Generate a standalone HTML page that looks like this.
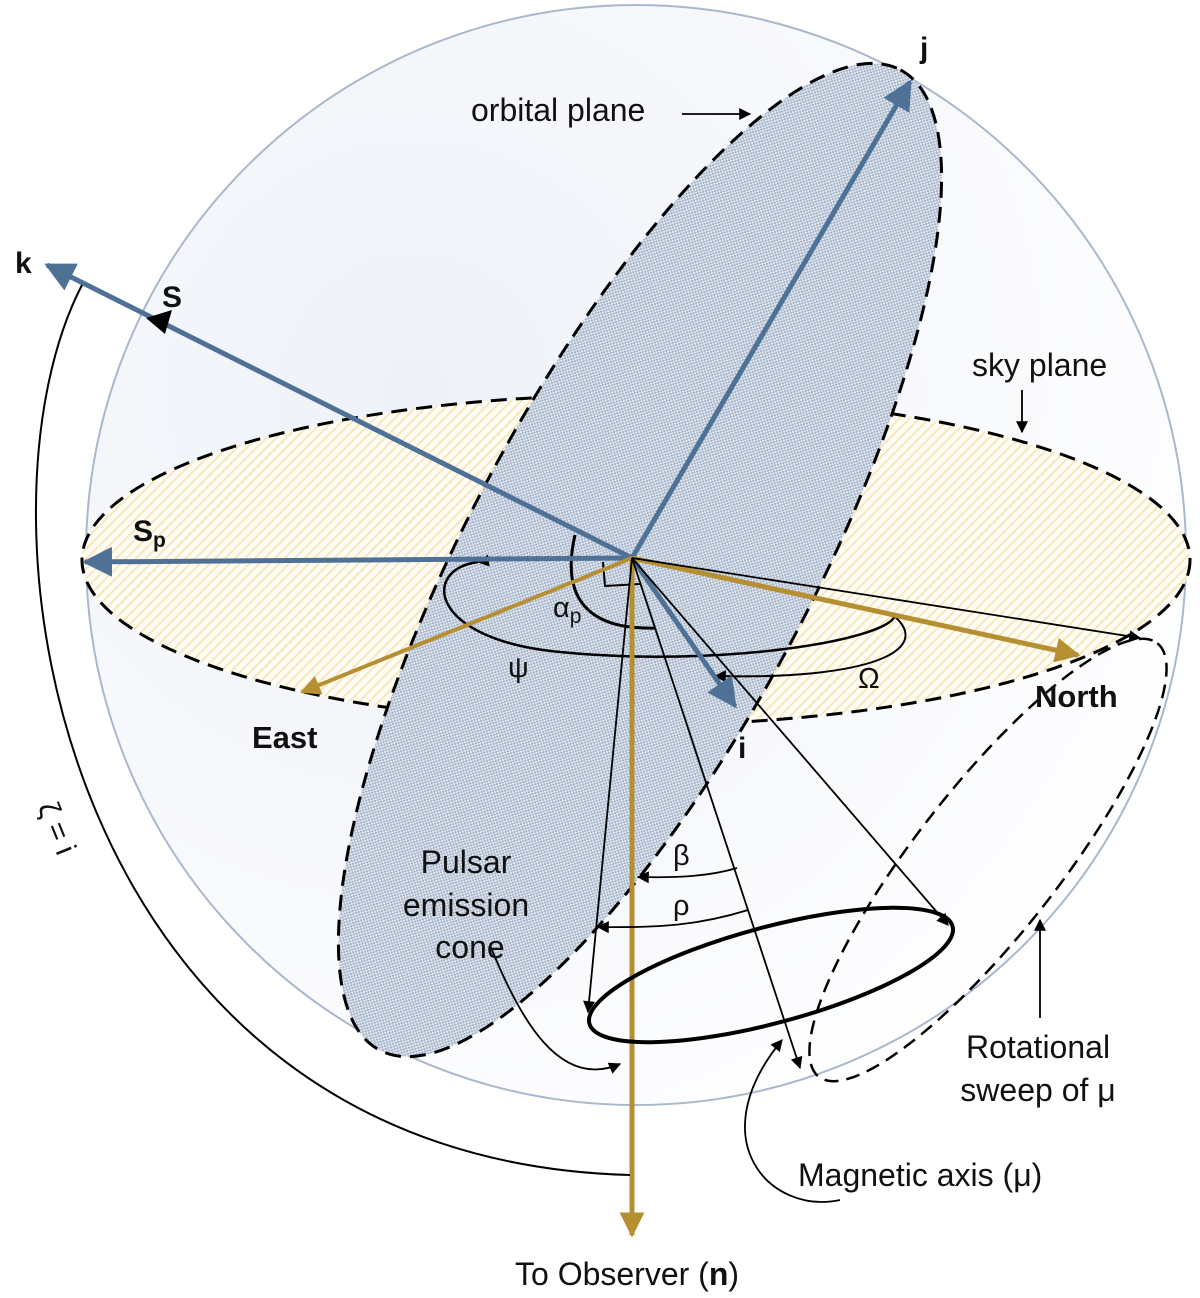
<!DOCTYPE html>
<html><head><meta charset="utf-8"><style>
html,body{margin:0;padding:0;background:#fff}
svg{display:block}
text{font-family:"Liberation Sans",sans-serif;fill:#111}
</style></head><body>
<svg width="1200" height="1298" viewBox="0 0 1200 1298" xmlns="http://www.w3.org/2000/svg">
<defs>
<radialGradient id="sph" cx="0.3" cy="0.35" r="0.8">
<stop offset="0" stop-color="#eef2f8"/><stop offset="0.6" stop-color="#f8f9fc"/><stop offset="1" stop-color="#ffffff"/>
</radialGradient>
<pattern id="chk" width="4" height="4" patternUnits="userSpaceOnUse">
<rect width="4" height="4" fill="#e2e7ef"/><rect width="2" height="2" fill="#a6b5ca"/><rect x="2" y="2" width="2" height="2" fill="#a6b5ca"/>
</pattern>
<pattern id="hat" width="7" height="7" patternUnits="userSpaceOnUse" patternTransform="rotate(45)">
<rect width="7" height="7" fill="#fffdf6"/><rect width="2" height="7" fill="#f8e6bc"/>
</pattern>
<marker id="ab" viewBox="0 0 10 10" refX="9" refY="5" markerWidth="6" markerHeight="6" orient="auto" markerUnits="strokeWidth"><path d="M0,0 L10,5 L0,10 Z" fill="#4f7196"/></marker>
<marker id="ag" viewBox="0 0 10 10" refX="9" refY="5" markerWidth="6" markerHeight="5" orient="auto" markerUnits="strokeWidth"><path d="M0,0 L10,5 L0,10 Z" fill="#b58f32"/></marker>
<marker id="ak" viewBox="0 0 10 10" refX="9" refY="5" markerWidth="18" markerHeight="12" orient="auto" markerUnits="userSpaceOnUse"><path d="M0,0 L10,5 L0,10 Z" fill="#000"/></marker>
</defs>
<circle cx="636" cy="555" r="550" fill="url(#sph)" stroke="#a9b8cc" stroke-width="2"/>
<ellipse cx="636" cy="560" rx="554" ry="165" fill="url(#hat)" stroke="#000" stroke-width="3" stroke-dasharray="16,9"/>
<ellipse cx="640" cy="560" rx="555" ry="172" transform="rotate(-62 640 560)" fill="url(#chk)" stroke="#000" stroke-width="3" stroke-dasharray="16,9"/>
<!-- rotational sweep -->
<ellipse cx="988" cy="860" rx="275" ry="72" transform="rotate(-52 988 860)" fill="none" stroke="#000" stroke-width="2.5" stroke-dasharray="14,8"/>
<!-- arcs -->
<path d="M575,535 C560,600 590,630 655,628" fill="none" stroke="#000" stroke-width="3"/>
<path d="M478,562 C420,570 430,640 560,652 C720,668 890,640 895,615" fill="none" stroke="#000" stroke-width="2.5" marker-start="url(#ak)"/>
<path d="M893,615 C935,650 870,680 715,676" fill="none" stroke="#000" stroke-width="2" marker-end="url(#ak)"/>
<path d="M603,562 L605,586 L640,584" fill="none" stroke="#000" stroke-width="2"/>
<!-- blue vectors -->
<line x1="632" y1="558" x2="910" y2="82" stroke="#4f7196" stroke-width="5" marker-end="url(#ab)"/>
<line x1="632" y1="558" x2="47" y2="265" stroke="#4f7196" stroke-width="5" marker-end="url(#ab)"/>
<line x1="632" y1="558" x2="85" y2="562" stroke="#4f7196" stroke-width="5" marker-end="url(#ab)"/>
<line x1="632" y1="558" x2="735" y2="706" stroke="#4f7196" stroke-width="5" marker-end="url(#ab)"/>
<path d="M146,318 L172,310 L165,334 Z" fill="#000"/>
<!-- gold -->
<line x1="632" y1="558" x2="1078" y2="655" stroke="#b58f32" stroke-width="5" marker-end="url(#ag)"/>
<line x1="632" y1="558" x2="302" y2="692" stroke="#b58f32" stroke-width="4" marker-end="url(#ag)"/>
<line x1="632" y1="558" x2="632" y2="1235" stroke="#b58f32" stroke-width="5" marker-end="url(#ag)"/>
<!-- thin lines -->
<line x1="632" y1="558" x2="1140" y2="638" stroke="#000" stroke-width="1.8" marker-end="url(#ak)"/>
<line x1="632" y1="558" x2="948" y2="925" stroke="#000" stroke-width="1.8" marker-end="url(#ak)"/>
<line x1="632" y1="558" x2="588" y2="1012" stroke="#000" stroke-width="1.8" marker-end="url(#ak)"/>
<line x1="632" y1="558" x2="800" y2="1068" stroke="#000" stroke-width="1.8" marker-end="url(#ak)"/>
<ellipse cx="771" cy="975" rx="188" ry="48" transform="rotate(-15 771 975)" fill="none" stroke="#000" stroke-width="4"/>
<path d="M737,868 C710,876 680,878 638,877" fill="none" stroke="#000" stroke-width="1.8" marker-end="url(#ak)"/>
<path d="M748,910 C700,925 660,928 598,927" fill="none" stroke="#000" stroke-width="1.8" marker-end="url(#ak)"/>
<!-- pointers -->
<path d="M490,945 C520,1020 560,1090 620,1064" fill="none" stroke="#000" stroke-width="1.8" marker-end="url(#ak)"/>
<path d="M840,1200 C770,1215 700,1140 782,1040" fill="none" stroke="#000" stroke-width="1.8" marker-end="url(#ak)"/>
<line x1="1040" y1="1018" x2="1040" y2="920" stroke="#000" stroke-width="1.8" marker-end="url(#ak)"/>
<line x1="682" y1="114" x2="750" y2="114" stroke="#000" stroke-width="1.8" marker-end="url(#ak)"/>
<line x1="1022" y1="390" x2="1022" y2="432" stroke="#000" stroke-width="1.8" marker-end="url(#ak)"/>
<path d="M82,285 C-40,520 60,1160 630,1175" fill="none" stroke="#000" stroke-width="2"/>
<!-- labels -->
<text x="15" y="273" font-size="30" font-weight="bold">k</text>
<text x="162" y="307" font-size="30" font-weight="bold">S</text>
<text x="133" y="541" font-size="30" font-weight="bold">S<tspan font-size="21" dy="6">p</tspan></text>
<text x="920" y="58" font-size="30" font-weight="bold">j</text>
<text x="738" y="758" font-size="30" font-weight="bold">i</text>
<text x="471" y="121" font-size="32">orbital plane</text>
<text x="972" y="376" font-size="32">sky plane</text>
<text x="252" y="748" font-size="31" font-weight="bold">East</text>
<text x="1035" y="707" font-size="31" font-weight="bold">North</text>
<text x="553" y="617" font-size="29">α<tspan font-size="21" dy="6">p</tspan></text>
<text x="508" y="677" font-size="29">ψ</text>
<text x="858" y="688" font-size="29">Ω</text>
<text x="673" y="865" font-size="29">β</text>
<text x="673" y="915" font-size="29">ρ</text>
<text x="466" y="873" font-size="32" text-anchor="middle">Pulsar</text>
<text x="466" y="916" font-size="32" text-anchor="middle">emission</text>
<text x="470" y="958" font-size="32" text-anchor="middle">cone</text>
<text x="1038" y="1058" font-size="32" text-anchor="middle">Rotational</text>
<text x="1038" y="1101" font-size="32" text-anchor="middle">sweep of μ</text>
<text x="798" y="1186" font-size="32">Magnetic axis (μ)</text>
<text x="515" y="1285" font-size="32">To Observer (<tspan font-weight="bold">n</tspan>)</text>
<text x="30" y="822" font-size="30" transform="rotate(68 45 820)">ζ = i</text>
</svg>
</body></html>
